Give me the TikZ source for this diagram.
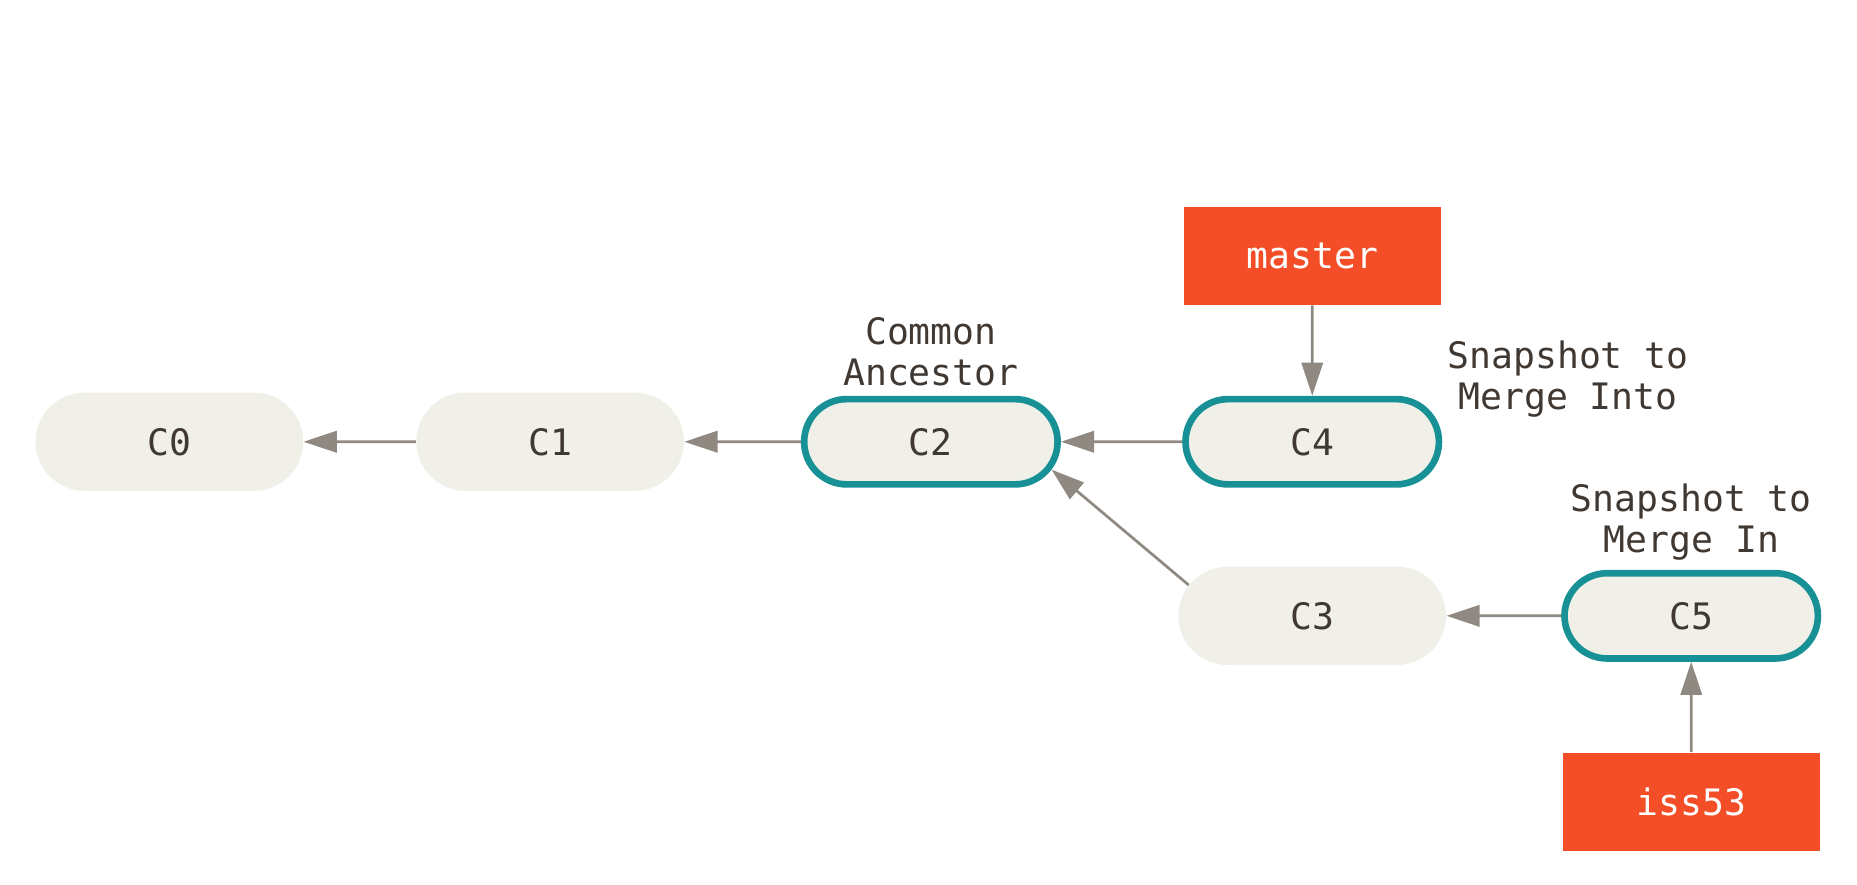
\documentclass[tikz,border=0pt]{standalone}
\usepackage{fontspec}
\newfontfamily\gitmono{DejaVu Sans Mono}
\usetikzlibrary{arrows.meta,positioning,shapes.misc}
\definecolor{commitfill}{RGB}{240,239,232}
\definecolor{headteal}{RGB}{24,145,150}
\definecolor{branchred}{RGB}{244,78,40}
\definecolor{edgegray}{RGB}{143,137,130}
\definecolor{inkbrown}{RGB}{64,56,50}
\tikzset{
	commit/.style={rounded rectangle,fill=commitfill,minimum width=4.52cm,minimum height=1.66cm,inner sep=0,text=inkbrown,font=\gitmono\fontsize{17.5}{19.4}\selectfont},
	headcommit/.style={commit,draw=headteal,line width=3.2pt,minimum width=4.28cm,minimum height=1.44cm},
	branch/.style={rectangle,fill=branchred,minimum width=4.34cm,minimum height=1.66cm,inner sep=0,text=white,font=\gitmono\fontsize{17.5}{19.4}\selectfont},
	note/.style={align=center,inner sep=0,text=inkbrown,font=\gitmono\fontsize{17.5}{19.4}\selectfont},
	parent/.style={-{Triangle[length=0.56cm,width=0.36cm]},color=edgegray,line width=1.3pt}
}

\begin{document}
\begin{tikzpicture}
		\useasboundingbox (0,0) rectangle (31.36,14.94);
		%%%% commits
		\node[commit] (c0) at (2.86,7.48) {C0};
		\node[commit] (c1) at (9.29,7.48) {C1};
		\node[headcommit,label={[note,label distance=0.16cm]above:{Common\\Ancestor}}] (c2) at (15.72,7.48) {C2};
		\node[headcommit] (c4) at (22.16,7.48) {C4};
		\node[commit] (c3) at (22.16,4.54) {C3};
		\node[headcommit,label={[note,label distance=0.16cm]above:{Snapshot to\\Merge In}}] (c5) at (28.56,4.54) {C5};
		\node[note] (into) at (26.48,8.54) {Snapshot to\\Merge Into};
		
		%%%% branches
		\node[branch] (master) at (22.16,10.62) {master};
		\node[branch] (iss53) at (28.56,1.40) {iss53};
		
		\draw[parent] (c1) -- (c0);
		\draw[parent] (c2) -- (c1);
		\draw[parent] (c4) -- (c2);
		\draw[parent] (c3.166) -- (c2.-13);
		\draw[parent] (c5) -- (c3);
		\draw[parent] (master) -- (c4);
		\draw[parent] (iss53) -- (c5);
		
\end{tikzpicture}
\end{document}
